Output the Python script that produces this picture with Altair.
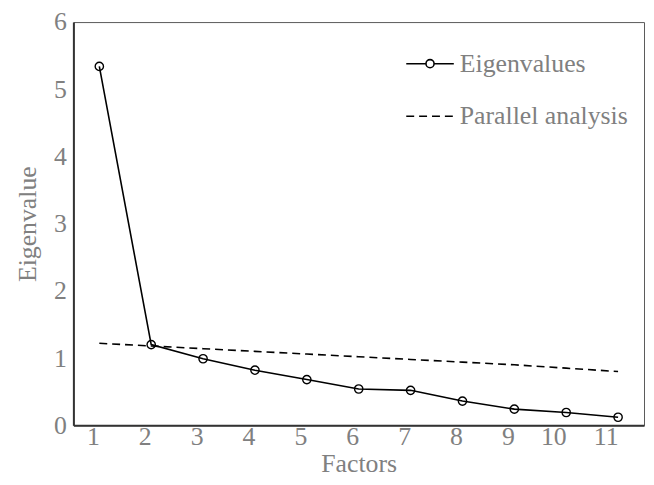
import altair as alt
import pandas as pd

factors = [1, 2, 3, 4, 5, 6, 7, 8, 9, 10, 11]
eigenvalues = [5.34, 1.20, 0.99, 0.82, 0.68, 0.54, 0.52, 0.36, 0.24, 0.19, 0.12]
parallel = [1.22, 1.18, 1.14, 1.10, 1.06, 1.02, 0.98, 0.94, 0.90, 0.85, 0.80]
series_names = ["Eigenvalues", "Parallel analysis"]

df_eig = pd.DataFrame({"Factor": factors, "Value": eigenvalues, "Series": series_names[0]})
df_par = pd.DataFrame({"Factor": factors, "Value": parallel, "Series": series_names[1]})

FONT = "Liberation Serif"
GREY = "#808080"
FS = 26
LEG_PATH = "M-1,0L-0.17,0M0.17,0L1,0M0.17,0A0.17,0.17,0,1,1,-0.17,0A0.17,0.17,0,1,1,0.17,0"

x_enc = alt.X("Factor:O", title="Factors",
              scale=alt.Scale(type="point", padding=0.5),
              axis=alt.Axis(labelAngle=0, ticks=False, domainColor="#333333", domainWidth=2,
                            labelFont=FONT, labelFontSize=FS, labelColor=GREY, labelPadding=11,
                            titleFont=FONT, titleFontSize=FS, titleColor=GREY,
                            titleFontWeight="normal", titlePadding=2, grid=False))
y_enc = alt.Y("Value:Q", title="Eigenvalue",
              scale=alt.Scale(domain=[0, 6], nice=False),
              axis=alt.Axis(values=[0, 1, 2, 3, 4, 5, 6], format="d", ticks=False,
                            domainColor="#333333", domainWidth=2, labelFont=FONT,
                            labelFontSize=FS, labelColor=GREY, labelPadding=7,
                            titleFont=FONT, titleFontSize=FS, titleColor=GREY,
                            titleFontWeight="normal", titlePadding=13, grid=False))

leg_common = dict(title=None, orient="none", labelFont=FONT, labelFontSize=FS,
                  labelColor=GREY, labelOffset=5, symbolSize=2304, symbolStrokeWidth=1.6,
                  symbolStrokeColor="black", labelLimit=300)

eig_line = alt.Chart(df_eig).mark_line(strokeWidth=1.6).encode(
    x=x_enc, y=y_enc,
    stroke=alt.Stroke("Series:N", scale=alt.Scale(domain=[series_names[0]], range=["black"]),
                      legend=alt.Legend(legendX=335, legendY=17, symbolType=LEG_PATH,
                                        **leg_common)),
)

par_line = alt.Chart(df_par).mark_line(color="black", strokeWidth=1.6).encode(
    x="Factor:O", y="Value:Q",
    strokeDash=alt.StrokeDash("Series:N",
                              scale=alt.Scale(domain=[series_names[1]], range=[[8, 5]]),
                              legend=alt.Legend(legendX=335, legendY=70, symbolType="stroke",
                                                **leg_common)),
)

points = alt.Chart(df_eig).mark_point(
    shape="circle", filled=False, stroke="black", strokeWidth=1.4, size=70, opacity=1,
).encode(x="Factor:O", y="Value:Q")

chart = alt.layer(par_line, eig_line, points).properties(
    width=576, height=407,
    autosize=alt.AutoSizeParams(type="none"),
    padding={"left": 66, "top": 12, "right": 2, "bottom": 50},
).configure_view(stroke="#595959", strokeWidth=1)

chart.save("out.html", embed_options={"renderer": "svg", "actions": False})
